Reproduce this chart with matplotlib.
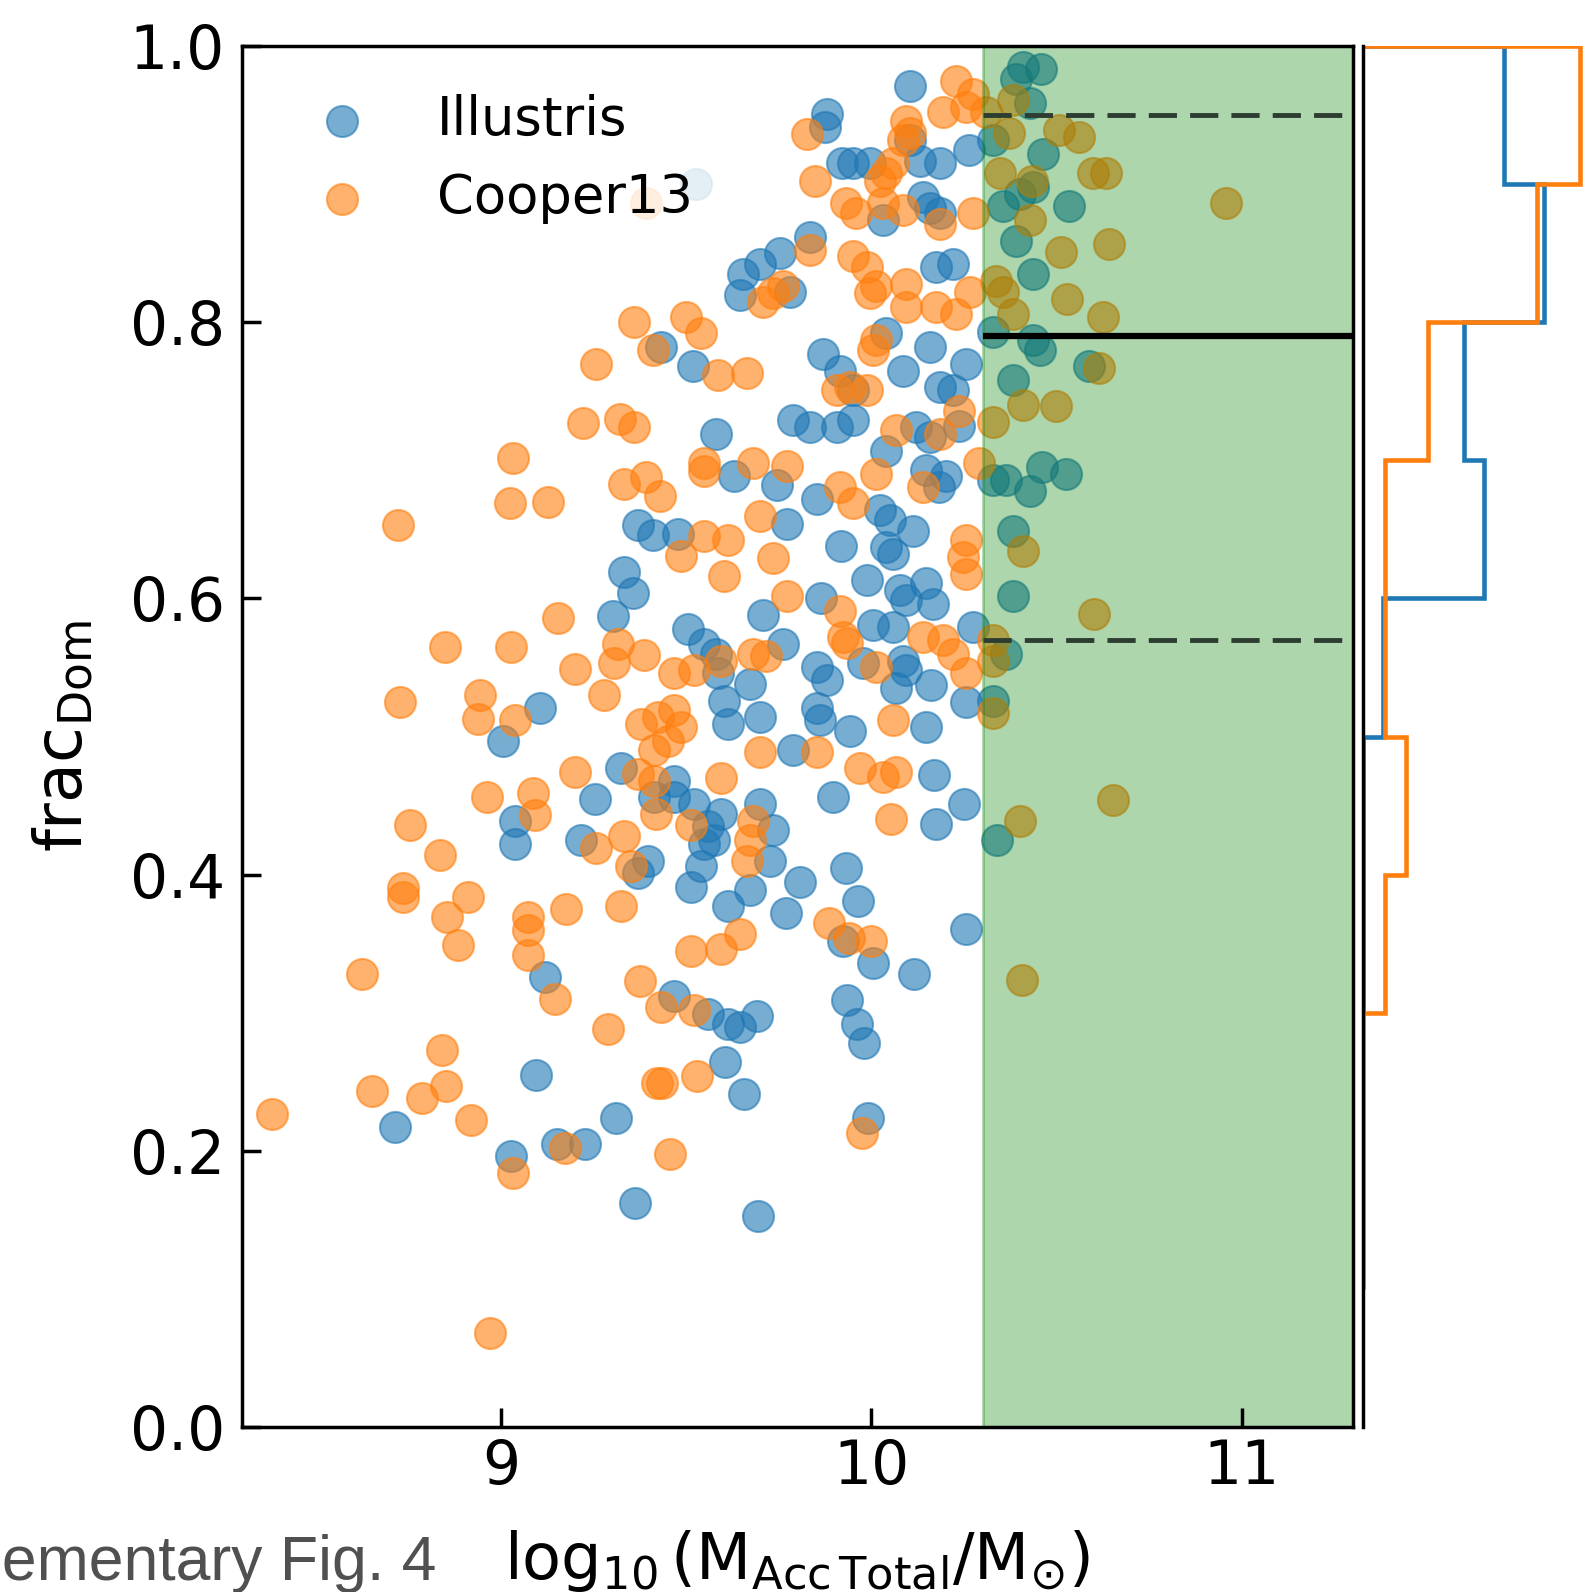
import numpy as np
import matplotlib
matplotlib.use("Agg")
import matplotlib.pyplot as plt

# ---------------- data ----------------
illustris_logm = [
    8.713, 9.095, 9.027, 9.151, 9.228, 9.311, 9.605, 9.656, 9.362, 9.693,
    9.104, 9.006, 9.037, 9.037, 9.118, 9.253, 9.217, 9.324, 9.396, 9.369,
    9.468, 9.513, 9.540, 9.468, 9.612, 9.414, 9.468, 9.522, 9.558, 9.549,
    9.594, 9.576, 9.603, 9.585, 9.558, 9.612, 9.612,
    9.504, 9.549, 9.580,
    9.432, 9.518, 9.580, 9.630, 9.369, 9.410, 9.477, 9.333, 9.356, 9.302,
    9.525,
    10.103, 9.879, 9.874, 9.920, 9.950, 9.995, 10.184, 10.130, 10.103, 10.139,
    10.157, 10.184, 10.031, 9.834, 9.752, 9.699, 9.654, 9.779, 9.645, 10.221,
    10.175, 10.040, 10.157, 9.870, 9.915, 9.950, 10.256, 10.219, 10.184, 9.789,
    9.834, 9.906, 9.950, 10.120, 10.157, 10.040, 10.264, 10.085, 10.235,
    10.408, 10.458, 10.390, 10.427, 10.462, 10.534, 10.435, 10.390, 10.435, 10.400,
    10.454, 10.381, 10.588, 10.327, 10.435, 10.355, 10.327,
    10.461, 10.525, 10.427, 10.364, 10.327, 10.381, 10.381, 10.364, 10.327, 10.340,
    9.744, 9.852, 9.771, 9.919, 10.022, 10.049, 10.111, 10.040, 10.057, 10.183,
    10.200, 10.148, 9.987, 9.707, 9.865, 10.076, 10.094, 10.148, 10.166, 10.004,
    10.057, 9.760, 10.274, 9.852, 9.879, 9.977, 10.085, 10.094, 10.162, 10.067,
    9.672, 10.256, 9.699, 9.852, 9.861, 9.942, 10.148, 9.789, 9.896, 10.170,
    10.251, 10.174, 9.699, 9.735,
    9.932, 9.807, 9.770, 9.963, 9.923, 10.005, 10.115, 10.255, 9.690, 9.935,
    9.960, 9.980, 9.990, 9.726, 9.672, 9.645,
]
illustris_frac = [
    0.217, 0.255, 0.196, 0.205, 0.205, 0.224, 0.264, 0.241, 0.162, 0.153,
    0.521, 0.497, 0.439, 0.422, 0.326, 0.455, 0.425, 0.477, 0.410, 0.401,
    0.312, 0.391, 0.406, 0.468, 0.509, 0.456, 0.456, 0.451, 0.435, 0.422,
    0.444, 0.425, 0.526, 0.546, 0.299, 0.292, 0.377,
    0.578, 0.567, 0.560,
    0.782, 0.768, 0.719, 0.689, 0.653, 0.646, 0.647, 0.619, 0.604, 0.587,
    0.900,
    0.971, 0.951, 0.941, 0.915, 0.915, 0.915, 0.915, 0.917, 0.932, 0.891,
    0.883, 0.879, 0.874, 0.862, 0.850, 0.842, 0.835, 0.822, 0.820, 0.842,
    0.840, 0.792, 0.782, 0.777, 0.765, 0.751, 0.770, 0.751, 0.753, 0.729,
    0.724, 0.724, 0.729, 0.724, 0.717, 0.707, 0.925, 0.765, 0.725,
    0.985, 0.983, 0.976, 0.959, 0.922, 0.884, 0.898, 0.859, 0.835, 0.893,
    0.780, 0.758, 0.768, 0.793, 0.787, 0.884, 0.932,
    0.695, 0.690, 0.678, 0.686, 0.686, 0.649, 0.602, 0.560, 0.526, 0.425,
    0.682, 0.672, 0.654, 0.638, 0.664, 0.657, 0.649, 0.637, 0.632, 0.681,
    0.689, 0.693, 0.613, 0.588, 0.600, 0.606, 0.599, 0.611, 0.596, 0.581,
    0.579, 0.567, 0.579, 0.550, 0.541, 0.553, 0.555, 0.548, 0.537, 0.535,
    0.538, 0.525, 0.514, 0.521, 0.512, 0.504, 0.507, 0.490, 0.456, 0.472,
    0.451, 0.437, 0.451, 0.432,
    0.405, 0.395, 0.372, 0.381, 0.352, 0.336, 0.328, 0.361, 0.298, 0.309,
    0.292, 0.278, 0.224, 0.410, 0.389, 0.290,
]

cooper_logm = [
    8.383, 8.651, 8.842, 8.852, 8.786, 8.919, 9.033, 9.172, 9.420, 9.435,
    9.528, 9.455, 8.971,
    9.199, 9.306, 9.315, 9.387, 9.279, 8.728, 8.943, 8.938, 9.037, 9.199,
    8.961, 9.086, 9.091, 9.378, 9.423, 9.468, 9.486, 9.450, 9.414, 9.369,
    9.414, 9.419, 9.513, 9.594, 9.522, 9.594, 8.754, 8.835, 8.736, 8.736,
    8.911, 8.853, 8.884, 9.073, 9.073, 9.073, 9.176, 9.324, 8.624, 9.145,
    9.374, 9.432, 9.289, 9.522, 9.513, 9.594, 9.257, 9.333, 9.351, 9.468,
    8.848, 9.028,
    9.360, 9.500, 9.540, 9.257, 9.410, 9.585, 9.221, 9.320, 9.360, 9.032,
    9.024, 9.127, 8.723, 9.333, 9.392, 9.428, 9.549, 9.549, 9.486, 9.603,
    9.549, 9.612, 9.154,
    9.390,
    10.957, 10.561, 10.507, 10.633, 10.597, 10.642, 10.512, 10.529, 10.624, 10.615,
    10.498, 10.408, 10.327, 10.427, 10.381, 10.336, 10.355, 10.346, 10.434, 10.372,
    10.310, 10.381,
    10.229, 10.274, 10.256, 10.192, 9.825, 10.094, 10.103, 10.085, 9.847, 10.058,
    10.040, 10.022, 10.031, 9.959, 9.932, 10.184, 10.274, 10.085, 9.834, 9.762,
    9.735, 9.708, 9.950, 9.987, 10.013, 9.995, 10.094, 10.094, 10.175, 10.229,
    10.265, 10.013, 10.004, 9.663, 9.906, 9.942, 9.987, 10.067, 10.184, 10.237,
    10.408, 10.602, 10.327, 10.327, 10.327, 10.651, 10.400,
    9.681, 9.771, 10.013, 10.290, 9.915, 9.950, 10.139, 9.699, 9.735, 10.256,
    10.247, 10.256, 9.771, 9.914, 9.923, 9.933, 10.139, 10.193, 10.220, 10.013,
    10.256, 9.681, 9.716, 10.057, 9.699, 9.852, 9.969, 10.031, 10.067, 10.053,
    9.681, 9.672,
    9.885, 9.940, 10.000, 9.975, 10.405, 9.645, 9.665,
]
cooper_frac = [
    0.227, 0.243, 0.273, 0.247, 0.238, 0.222, 0.184, 0.202, 0.249, 0.249,
    0.254, 0.198, 0.068,
    0.549, 0.553, 0.567, 0.559, 0.530, 0.525, 0.530, 0.513, 0.512, 0.474,
    0.456, 0.459, 0.443, 0.509, 0.514, 0.519, 0.507, 0.497, 0.490, 0.473,
    0.468, 0.444, 0.436, 0.470, 0.548, 0.555, 0.436, 0.414, 0.390, 0.384,
    0.384, 0.369, 0.349, 0.369, 0.360, 0.342, 0.375, 0.377, 0.328, 0.310,
    0.323, 0.304, 0.288, 0.302, 0.345, 0.346, 0.419, 0.428, 0.406, 0.546,
    0.565, 0.565,
    0.800, 0.804, 0.792, 0.770, 0.780, 0.762, 0.727, 0.730, 0.724, 0.702,
    0.669, 0.670, 0.653, 0.683, 0.688, 0.674, 0.698, 0.692, 0.631, 0.616,
    0.645, 0.642, 0.586,
    0.886,
    0.886, 0.934, 0.939, 0.908, 0.908, 0.857, 0.851, 0.817, 0.804, 0.767,
    0.739, 0.740, 0.728, 0.874, 0.961, 0.830, 0.822, 0.908, 0.902, 0.937,
    0.952, 0.806,
    0.975, 0.965, 0.956, 0.952, 0.936, 0.946, 0.937, 0.932, 0.902, 0.915,
    0.908, 0.902, 0.886, 0.879, 0.886, 0.871, 0.879, 0.881, 0.852, 0.826,
    0.821, 0.815, 0.848, 0.840, 0.826, 0.821, 0.828, 0.811, 0.811, 0.806,
    0.822, 0.787, 0.780, 0.763, 0.751, 0.753, 0.751, 0.722, 0.719, 0.736,
    0.634, 0.589, 0.570, 0.555, 0.517, 0.454, 0.439,
    0.698, 0.696, 0.690, 0.698, 0.681, 0.669, 0.681, 0.660, 0.629, 0.642,
    0.630, 0.618, 0.602, 0.591, 0.572, 0.568, 0.572, 0.570, 0.560, 0.550,
    0.546, 0.560, 0.558, 0.512, 0.489, 0.489, 0.477, 0.471, 0.474, 0.440,
    0.439, 0.425,
    0.365, 0.354, 0.352, 0.213, 0.324, 0.357, 0.410,
]

# histogram (galaxies in the shaded mass range)
illustris_hist_edges = [0.3, 0.4, 0.5, 0.6, 0.7, 0.8, 0.9, 1.0]
illustris_hist_counts = [0, 0, 1, 6, 5, 9, 7]
cooper_hist_edges = [0.1, 0.2, 0.3, 0.4, 0.5, 0.6, 0.7, 0.8, 0.9, 1.0]
cooper_hist_counts = [0, 0, 1, 2, 1, 1, 3, 8, 10]

mass_cut = [10.3, 11.3]
median_line = 0.79
percentile_lines = [0.57, 0.95]

x_ticks = [9, 10, 11]
y_ticks = [0.0, 0.2, 0.4, 0.6, 0.8, 1.0]

BLUE = "#1f77b4"
ORANGE = "#ff7f0e"

# ---------------- figure ----------------
fig = plt.figure(figsize=(15.84, 15.92), dpi=100)
ax = fig.add_axes([0.1526, 0.1036, 0.7016, 0.8675])

ax.scatter(illustris_logm, illustris_frac, s=500, c=BLUE, alpha=0.6,
           linewidths=1.5, label="Illustris")
ax.scatter(cooper_logm, cooper_frac, s=500, c=ORANGE, alpha=0.6,
           linewidths=1.5, label="Cooper13")

ax.axvspan(mass_cut[0], mass_cut[1], color="green", alpha=0.32, lw=2)
ax.hlines(percentile_lines, mass_cut[0], mass_cut[1], colors="#2e3d31",
          linestyles=(0, (5.8, 2.7)), lw=3.5)
ax.hlines(median_line, mass_cut[0], mass_cut[1], colors="k", lw=4.5)

ax.set_xlim(8.3, 11.3)
ax.set_ylim(0, 1)
ax.set_xticks(x_ticks)
ax.set_xticklabels([str(t) for t in x_ticks])
ax.set_yticks(y_ticks)
ax.set_yticklabels([f"{t:.1f}" for t in y_ticks])
ax.tick_params(direction="in", length=14, width=2.5, labelsize=43)
ax.tick_params(axis="x", pad=8)
ax.tick_params(axis="y", pad=12)
for sp in ax.spines.values():
    sp.set_linewidth(2.5)

ax.set_xlabel(r"$\mathrm{log_{10}\,(M_{Acc\,Total}/M_{\odot})}$", fontsize=46, labelpad=22)
ax.set_ylabel(r"$\mathrm{frac_{Dom}}$", fontsize=47, labelpad=24)

leg = ax.legend(loc="upper left", fontsize=38, frameon=True, framealpha=0.8,
                facecolor="white", edgecolor="none", labelspacing=0.5,
                handletextpad=0.8, borderpad=0.4)

# side histogram
axh = fig.add_axes([0.8605, 0.1036, 0.1395, 0.8675])
for counts, edges, col in [(illustris_hist_counts, illustris_hist_edges, BLUE),
                           (cooper_hist_counts, cooper_hist_edges, ORANGE)]:
    counts = np.asarray(counts, dtype=float)
    edges = np.asarray(edges)
    dens = counts / counts.sum() / np.diff(edges)
    axh.stairs(dens, edges, orientation="horizontal", baseline=0,
               color=col, lw=3.3)
axh.set_ylim(0, 1)
axh.set_xlim(0, 3.917)
axh.set_xticks([])
axh.set_yticks([])
axh.patch.set_alpha(0)
for side in ["top", "right", "bottom"]:
    axh.spines[side].set_visible(False)
axh.spines["left"].set_linewidth(2.5)

fig.text(436 / 1584, 12 / 1592, "Supplementary Fig. 4", ha="right",
         va="baseline", fontsize=45, color="#505050", family="Liberation Sans")

fig.savefig("out.png", dpi=100)
